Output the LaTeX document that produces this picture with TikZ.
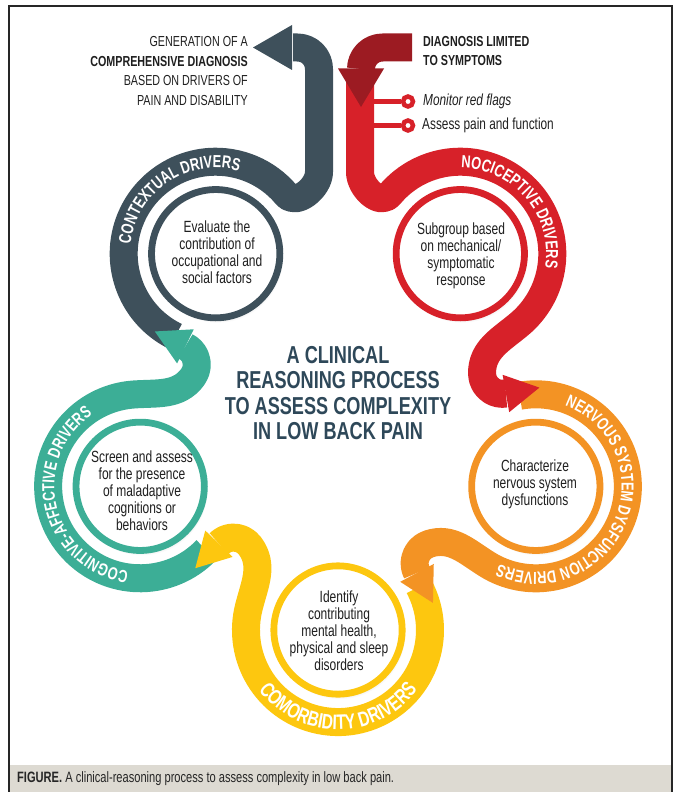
\documentclass[tikz,border=0pt]{standalone}
\usepackage{fontspec}
\setmainfont{Liberation Sans}[FakeStretch=0.74]
\usetikzlibrary{decorations.text,shadows,calc}
\definecolor{cdark}{RGB}{62,80,91}
\definecolor{cred}{RGB}{215,33,41}
\definecolor{cdred}{RGB}{156,27,34}
\definecolor{corange}{RGB}{243,147,36}
\definecolor{cyellow}{RGB}{253,199,15}
\definecolor{cteal}{RGB}{60,174,150}
\definecolor{ctitle}{RGB}{46,72,89}
\definecolor{ccap}{RGB}{221,218,210}
\newcommand\defrot[4]{\coordinate (#1) at ({338+((#3)-338)*cos(#2)-((#4)-422)*sin(#2)},{422+((#3)-338)*sin(#2)+((#4)-422)*cos(#2)});}
\newcommand\bandfont{\fontsize{17.4}{17.4}\selectfont\bfseries}
\newcommand\bandfontB{\fontsize{21}{21}\selectfont\bfseries}
\begin{document}
\begin{tikzpicture}[x=1pt,y=-1pt,
 band/.style={line width=28pt,line cap=butt,line join=round},
 ring/.style={circle,draw=#1,line width=6.8pt,fill=white,minimum size=128.3pt,inner sep=0pt,
   circular drop shadow={shadow xshift=1.5pt,shadow yshift=-3pt,opacity=0.3,shadow scale=1.03}},
 circtext/.style={align=center,inner sep=0pt,font=\fontsize{16.2}{17}\selectfont,text=black!88},
 lbl/.style={inner sep=0pt},
 bandlabel/.style={decorate,decoration={text along path,text align=center,text={|\bandfont\color{white}|#1}}},
 bandlabelB/.style={decorate,decoration={text along path,text align=center,text={|\bandfontB\color{white}|#1}}},
 dotring/.style={circle,draw=cred,line width=4.5pt,fill=white,minimum size=10pt,inner sep=0pt}
]
\useasboundingbox (0,0) rectangle (684,792);
% frame and caption
\fill[ccap] (9,765) rectangle (672,792);
\draw[line width=1.2pt,black!85] (9,792) -- (9,6) -- (672,6) -- (672,792);
\node[lbl,anchor=west,font=\fontsize{15}{15}\selectfont,text=black!85] (cap) at (17,778.5) {\textbf{FIGURE.} A clinical-reasoning process to assess complexity in low back pain.};

\coordinate (O) at (338,422);
\coordinate (C1) at (215.7,253.7);
\coordinate (C2) at (460.3,253.7);
\coordinate (C3) at (535.8,486.3);
\coordinate (C4) at (140.2,486.3);
\coordinate (C5) at (338,630);

\foreach \n/\a in {0/0,1/72,2/144,3/216}{
  \defrot{S\n}{\a}{369.2}{240.9}
  \defrot{Ja\n}{\a}{500.9}{339.8}
  \defrot{Jb\n}{\a}{482}{349.2}
  \defrot{Jc\n}{\a}{482}{373.4}
  \defrot{T\n}{\a}{539.4}{387.6}
  \defrot{Ba\n}{\a}{502.6}{374.8}
  \defrot{Bb\n}{\a}{509.2}{412.2}
}

% dark band (contextual) with exit arrow
\draw[band,cdark] ($(C1)+(116:92)$) arc[start angle=116,end angle=320,radius=92]
  .. controls (296.2,206.6) and (319,187.6) .. (319,172) -- (319,69)
  arc[start angle=0,end angle=-90,radius=21.5] -- (293,47.5);
\fill[cdark] (292,25) -- (253,47.5) -- (292,70) -- cycle;

% teal, yellow, orange petals
\foreach \n/\a/\col in {3/216/cteal,2/144/cyellow,1/72/corange}{
  \draw[band,\col] (S\n) arc[start angle={-172+\a},end angle={50+\a},radius=92]
    .. controls (Ja\n) and (Jb\n) .. (Jc\n) arc[start angle={180+\a},end angle={80+\a},radius=20.4];
  \fill[\col] (Ba\n) -- (T\n) -- (Bb\n) -- cycle;
}

% red band (nociceptive)
\draw[band,cred] (360,79) -- (360,172) .. controls (360,187.6) and (379.8,206.6) .. ($(C2)+(220:92)$)
  arc[start angle=220,end angle=410,radius=92]
  .. controls (Ja0) and (Jb0) .. (Jc0) arc[start angle=180,end angle=80,radius=20.4];
\fill[cred] (Ba0) -- (T0) -- (Bb0) -- cycle;

% branches
\coordinate (s1) at (360,101.5);
\coordinate (s2) at (360,125.5);
\node[dotring] (d1) at (408,101.5) {};
\node[dotring] (d2) at (408,125.5) {};
\draw[cred,line width=4.5pt] (s1) -- (d1);
\draw[cred,line width=4.5pt] (s2) -- (d2);

% dark red entry arrow
\draw[band,cdred] (412,47.5) -- (382.5,47.5) arc[start angle=-90,end angle=-180,radius=21.5];
\fill[cdred] (338,68.5) -- (361,107) -- (384,68.5) -- cycle;

% circles
\node[ring=cdark] (c1) at (C1) {};
\node[ring=cred] (c2) at (C2) {};
\node[ring=corange] (c3) at (C3) {};
\node[ring=cteal] (c4) at (C4) {};
\node[ring=cyellow] (c5) at (C5) {};

\node[circtext] (t1) at (217,252) {Evaluate the\\contribution of\\occupational and\\social factors};
\node[circtext] (t2) at (461,256) {Subgroup based\\on mechanical/\\symptomatic\\response};
\node[circtext] (t3) at (535,484) {Characterize\\nervous system\\dysfunctions};
\node[circtext] (t4) at (142,491) {Screen and assess\\for the presence\\of maladaptive\\cognitions or\\behaviors};
\node[circtext] (t5) at (339,631) {Identify\\contributing\\mental health,\\physical and sleep\\disorders};

% band labels
\path[bandlabel={CONTEXTUAL DRIVERS}] ($(C1)+(146:85.8)$) arc[start angle=146,end angle=326,radius=85.8];
\path[bandlabel={NOCICEPTIVE DRIVERS}] ($(C2)+(-130:85.8)$) arc[start angle=-130,end angle=50,radius=85.8];
\path[bandlabel={NERVOUS SYSTEM DYSFUNCTION DRIVERS}] ($(C3)+(-95:85.8)$) arc[start angle=-95,end angle=140,radius=85.8];
\path[bandlabel={COGNITIVE-AFFECTIVE DRIVERS}] ($(C4)+(77:85.8)$) arc[start angle=77,end angle=257,radius=85.8];
\path[bandlabelB={COMORBIDITY DRIVERS}] ($(C5)+(180:99.5)$) arc[start angle=180,end angle=0,radius=99.5];

% title
\node[lbl,align=center,text=ctitle,font=\fontsize{24.5}{25.5}\selectfont\bfseries] (title) at (338,393) {A CLINICAL\\REASONING PROCESS\\TO ASSESS COMPLEXITY\\IN LOW BACK PAIN};

% top texts
\node[lbl,anchor=east,align=right,font=\fontsize{14.5}{19.4}\selectfont,text=black!88] (gen) at (248,71) {GENERATION OF A\\\textbf{COMPREHENSIVE DIAGNOSIS}\\BASED ON DRIVERS OF\\PAIN AND DISABILITY};
\node[lbl,anchor=west,align=left,font=\fontsize{14.5}{18.5}\selectfont\bfseries,text=black!88] (diag) at (423,51) {DIAGNOSIS LIMITED\\TO SYMPTOMS};
\node[lbl,anchor=west,font=\fontsize{16}{16}\selectfont\itshape,text=black!88] (m1) at (423,101.5) {Monitor red flags};
\node[lbl,anchor=west,font=\fontsize{16}{16}\selectfont,text=black!88] (m2) at (422,125.5) {Assess pain and function};
\end{tikzpicture}
\end{document}
